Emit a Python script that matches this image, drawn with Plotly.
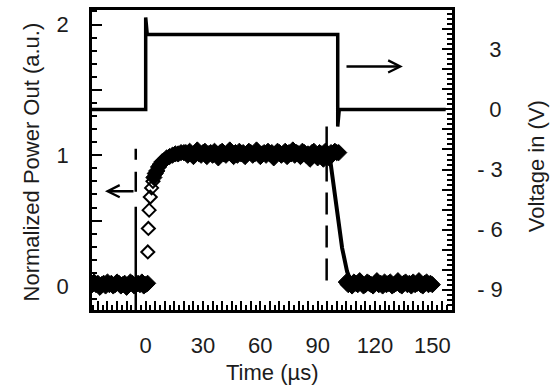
import plotly.graph_objects as go

# ---- Normalized optical power out (a.u.) versus time (µs) ----
# baseline before the drive pulse
t_pre = list(range(-30, 2))
p_pre = [0.02, 0.00, 0.01, 0.03, 0.01, 0.02, -0.01, 0.01, 0.02, 0.00, 0.03,
         0.01, 0.02, 0.00, 0.01, 0.03, 0.02, 0.00, 0.01, 0.02, -0.01, 0.01,
         0.03, 0.02, 0.00, 0.01, 0.02, 0.01, 0.03, 0.00, 0.01, 0.02]

# turn-on transient: fast initial edge ...
t_rise = [1.1, 1.4, 1.8, 2.4, 3.1, 3.8]
p_rise = [0.26, 0.44, 0.58, 0.68, 0.75, 0.80]
# ... then a slower approach to the steady level
t_knee = [4.3, 5.0, 5.8, 6.7, 7.6, 8.6, 9.7, 11.0, 12.5, 14.0, 15.5, 17.0,
          18.5, 20.0]
p_knee = [0.83, 0.86, 0.88, 0.91, 0.93, 0.95, 0.96, 0.98, 0.99, 1.00, 1.01,
          1.01, 1.02, 1.02]

# steady "on" state
t_on = list(range(21, 102))
p_on = [1.02, 1.00, 1.03, 1.01, 0.99, 1.02, 1.04, 1.01, 1.00, 1.02, 1.03,
        0.99, 1.01, 1.02, 1.00, 1.03, 1.01, 0.98, 1.02, 1.03, 1.01, 1.00,
        1.02, 1.04, 1.01, 0.99, 1.02, 1.00, 1.03, 1.01, 1.02, 0.99, 1.01,
        1.03, 1.02, 1.00, 1.01, 1.04, 1.02, 0.99, 1.01, 1.02, 1.00, 1.03,
        1.01, 1.02, 0.98, 1.01, 1.03, 1.02, 1.00, 1.01, 1.03, 0.99, 1.02,
        1.01, 1.04, 1.00, 1.02, 1.01, 0.99, 1.03, 1.02, 1.00, 1.01, 0.97,
        1.02, 1.03, 1.00, 0.98, 1.02, 1.01, 0.97, 1.03, 1.00, 0.98, 1.02,
        1.01, 1.03, 1.02, 1.02]

# turn-off transient
t_fall = [96.5, 98.1, 100.2, 102.8, 105.4, 107.0]
p_fall = [0.97, 0.80, 0.55, 0.29, 0.11, 0.05]

# baseline after the drive pulse
t_post = list(range(105, 151))
p_post = [0.03, 0.01, 0.02, 0.00, 0.03, 0.02, 0.01, 0.04, 0.02, 0.00, 0.01,
          0.03, 0.02, 0.01, 0.00, 0.02, 0.04, 0.01, 0.02, 0.00, 0.03, 0.01,
          0.02, 0.03, 0.00, 0.01, 0.02, 0.04, 0.01, 0.00, 0.02, 0.03, 0.01,
          0.02, 0.00, 0.03, 0.01, 0.02, 0.04, 0.01, 0.00, 0.02, 0.03, 0.01,
          0.02, 0.01]

# ---- Drive voltage (V) ----
t_volt = [-30, 0, 0, 0.8, 100.5, 100.5, 101.3, 157]
v_volt = [0, 0, 4.6, 3.75, 3.75, -0.85, 0, 0]

# ---- Tick labels ----
time_ticks = [0, 30, 60, 90, 120, 150]
time_labels = ["0", "30", "60", "90", "120", "150"]
power_ticks = [0, 1, 2]
power_labels = ["0", "1", "2"]
volt_ticks = [3, 0, -3, -6, -9]
volt_labels = ["\u00a0\u00a03", "\u00a0\u00a00", "- 3", "- 6", "- 9"]

FONT = "Liberation Sans, Arial, Helvetica, sans-serif"
INK = "#1c1c1c"

# major ticks: every 5 µs, 0.5 a.u., 1 V; only some carry a label
x_major = list(range(-25, 161, 5))
x_text = [time_labels[time_ticks.index(v)] if v in time_ticks else "" for v in x_major]
y_major = [0, 0.5, 1, 1.5, 2]
y_text = [power_labels[power_ticks.index(v)] if v in power_ticks else "" for v in y_major]
y2_major = list(range(-10, 5))
y2_text = [volt_labels[volt_ticks.index(v)] if v in volt_ticks else "" for v in y2_major]

# densely sampled segments overlap into a solid black band
dense = dict(symbol="diamond", size=12.5, color="black",
             line=dict(width=1, color="black"))
sparse = dict(symbol="diamond-open", size=10, color="black", line=dict(width=2))

fig = go.Figure()
for tx, py, mk in [(t_pre, p_pre, dense), (t_knee, p_knee, dense),
                   (t_on, p_on, dense), (t_post, p_post, dense),
                   (t_rise, p_rise, sparse)]:
    fig.add_trace(go.Scatter(x=tx, y=py, mode="markers", marker=mk,
                             showlegend=False, hoverinfo="skip"))
fig.add_trace(go.Scatter(x=t_fall, y=p_fall, mode="lines",
                         line=dict(color="black", width=4), showlegend=False))
fig.add_trace(go.Scatter(x=t_volt, y=v_volt, mode="lines", yaxis="y2",
                         line=dict(color="black", width=3.5), showlegend=False))

axis_common = dict(showgrid=False, zeroline=False, showline=True,
                   linecolor="black", linewidth=2.5, ticks="inside",
                   tickcolor="black", tickwidth=1.5,
                   tickfont=dict(family=FONT, size=22, color=INK))

fig.update_layout(
    width=550, height=388, autosize=False,
    margin=dict(l=92, r=98, t=7, b=78),
    paper_bgcolor="white", plot_bgcolor="white",
    xaxis=dict(range=[-28.1, 160.3], tickmode="array", tickvals=x_major,
               ticktext=x_text, ticklen=9, mirror=True, ticklabelstandoff=14,
               minor=dict(ticks="inside", dtick=2.5, tick0=0, ticklen=5,
                          tickcolor="black", tickwidth=1.5),
               **axis_common),
    yaxis=dict(range=[-0.184, 2.111], tickmode="array", tickvals=y_major,
               ticktext=y_text, ticklen=10, mirror=True, ticklabelstandoff=16,
               minor=dict(ticks="inside", dtick=0.1, tick0=0, ticklen=5,
                          tickcolor="black", tickwidth=1.5),
               **axis_common),
    yaxis2=dict(range=[-10.02, 4.97], overlaying="y", side="right",
                tickmode="array", tickvals=y2_major, ticktext=y2_text,
                ticklen=10, ticklabelstandoff=18,
                minor=dict(ticks="inside", dtick=0.25, tick0=0, ticklen=5,
                           tickcolor="black", tickwidth=1.5),
                **axis_common),
)

# switching markers (dashed verticals)
fig.add_shape(type="line", xref="x", yref="y", x0=-5.2, x1=-5.2, y0=1.05,
              y1=-0.184, line=dict(color="black", width=2.5,
                                   dash="11px,12px,20px,15px,120px"))
fig.add_shape(type="line", xref="x", yref="y", x0=94.7, x1=94.7, y0=1.22,
              y1=0.04, line=dict(color="black", width=2.5, dash="22px,11px"))

# arrows pointing each curve to its axis
fig.add_annotation(x=-21.3, y=0.725, xref="x", yref="y", ax=-5.6, ay=0.725,
                   axref="x", ayref="y", showarrow=True, arrowhead=5,
                   arrowwidth=2.5, arrowsize=0.95, arrowcolor="black", text="")
fig.add_annotation(x=134.6, y=2.15, xref="x", yref="y2", ax=104.3, ay=2.15,
                   axref="x", ayref="y2", showarrow=True, arrowhead=5,
                   arrowwidth=2.5, arrowsize=0.95, arrowcolor="black", text="")

# axis titles
title_font = dict(family=FONT, size=22, color=INK)
fig.add_annotation(text="Time (µs)", xref="paper", yref="paper", x=0.5,
                   y=-0.208, xanchor="center", yanchor="middle",
                   showarrow=False, font=title_font)
fig.add_annotation(text="Normalized Power Out (a.u.)", xref="paper",
                   yref="paper", x=-0.1667, y=0.495, textangle=-90,
                   xanchor="center", yanchor="middle", showarrow=False,
                   font=title_font)
fig.add_annotation(text="Voltage in (V)", xref="paper", yref="paper",
                   x=1.233, y=0.479, textangle=-90, xanchor="center",
                   yanchor="middle", showarrow=False, font=title_font)

fig.write_html("out.html")
